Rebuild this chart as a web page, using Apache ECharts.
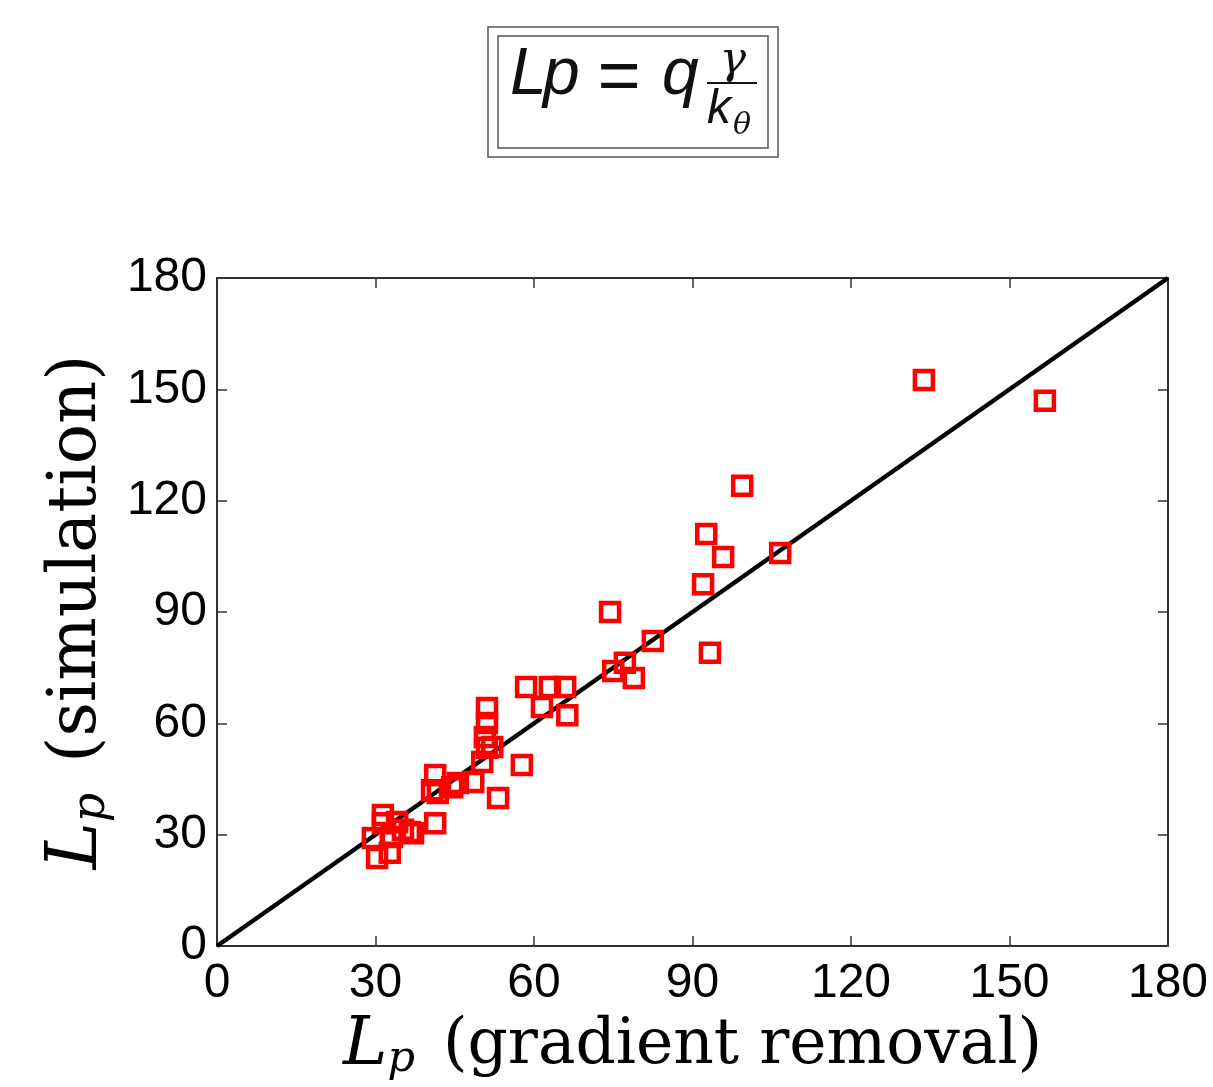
<!DOCTYPE html>
<html>
<head>
<meta charset="utf-8">
<script src="https://cdn.jsdelivr.net/npm/echarts@6/dist/echarts.min.js"></script>
<style>
  html, body { margin: 0; padding: 0; background: #fff; }
  #chart { width: 1213px; height: 1087px; }
</style>
</head>
<body>
<div id="chart"></div>
<script>
// L_p from gradient removal (x) vs L_p from simulation (y)
const gradX = [133.8, 156.7, 99.4, 92.6, 95.8, 106.6, 92.0, 74.4, 82.5, 93.3, 75.0, 77.2, 78.9,
  58.5, 63.0, 65.9, 61.5, 66.3, 51.1, 51.1, 50.7, 52.1, 51.1, 50.2, 57.7, 53.2, 41.3, 40.7,
  41.8, 44.5, 45.6, 48.5, 41.3, 31.4, 31.4, 34.1, 36.5, 37.1, 29.5, 30.3, 32.7, 33.1, 35.2];
const simY = [152.5, 146.9, 124.0, 111.0, 104.8, 105.9, 97.5, 90.0, 82.2, 79.0, 74.1, 76.3, 72.2,
  69.8, 69.8, 69.8, 64.4, 62.2, 64.1, 60.1, 56.3, 53.6, 53.4, 49.6, 48.8, 39.9, 46.1, 42.0,
  41.2, 42.8, 43.9, 44.2, 33.1, 35.3, 33.1, 33.4, 30.7, 30.4, 29.1, 23.7, 25.1, 29.4, 31.3];
const lineX = [0, 180];
const lineY = [0, 180];

const chart = echarts.init(document.getElementById('chart'));

const sans = 'Liberation Sans, Arial, sans-serif';
const serif = 'DejaVu Serif, Liberation Serif, serif';
const axisColor = '#333';

const tickLabel = { fontFamily: sans, fontSize: 48, color: '#000' };

function nameRich(size) {
  return {
    L: { fontFamily: serif, fontStyle: 'italic', fontSize: size + 4, color: '#000' },
    p: { fontFamily: serif, fontStyle: 'italic', fontSize: Math.round(size * 0.68), color: '#000',
      padding: [Math.round(size * 0.42), Math.round(size * 0.45), 0, 0] },
    t: { fontFamily: serif, fontSize: size, color: '#000' },
  };
}

function mainAxis(pos, name, gap, size) {
  return {
    type: 'value',
    position: pos,
    min: 0,
    max: 180,
    interval: 30,
    name: name,
    nameLocation: 'middle',
    nameGap: gap,
    nameTextStyle: { rich: nameRich(size) },
    axisLine: { show: true, onZero: false, lineStyle: { color: axisColor, width: 2 } },
    axisTick: { show: true, inside: true, length: 10, lineStyle: { color: axisColor, width: 1.5 } },
    axisLabel: Object.assign({ margin: pos === 'left' ? 10 : 14 }, tickLabel),
    splitLine: { show: false },
  };
}

function mirrorAxis(pos) {
  return {
    type: 'value',
    position: pos,
    min: 0,
    max: 180,
    interval: 30,
    axisLine: { show: true, onZero: false, lineStyle: { color: axisColor, width: 2 } },
    axisTick: { show: true, inside: true, length: 10, lineStyle: { color: axisColor, width: 1.5 } },
    axisLabel: { show: false },
    splitLine: { show: false },
  };
}

const points = gradX.map((x, i) => [x, simY[i]]);
const diag = lineX.map((x, i) => [x, lineY[i]]);

chart.setOption({
  animation: false,
  backgroundColor: '#fff',
  grid: { left: 217, right: 45, top: 278, bottom: 141, containLabel: false },
  xAxis: [mainAxis('bottom', '{L|L}{p|p}{t|(gradient removal)}', 58, 63), mirrorAxis('top')],
  yAxis: [
    Object.assign(mainAxis('left', '{L|L}{p|p}{t|(simulation)}', 102, 67), { nameRotate: 90 }),
    mirrorAxis('right'),
  ],
  series: [
    {
      type: 'line',
      data: diag,
      xAxisIndex: 0,
      yAxisIndex: 0,
      symbol: 'none',
      lineStyle: { color: '#000', width: 4.5 },
      z: 2,
    },
    {
      type: 'scatter',
      data: points,
      xAxisIndex: 0,
      yAxisIndex: 0,
      symbol: 'rect',
      symbolSize: 18,
      itemStyle: { color: 'rgba(255,255,255,0)', borderColor: '#ff0000', borderWidth: 4.5, opacity: 1 },
      z: 3,
    },
  ],
  graphic: [
    { type: 'rect', shape: { x: 488, y: 27, width: 290, height: 130 }, style: { fill: 'none', stroke: '#555', lineWidth: 1.5 } },
    { type: 'rect', shape: { x: 498, y: 36, width: 270, height: 112 }, style: { fill: 'none', stroke: '#555', lineWidth: 1.5 } },
    { type: 'text', x: 510, y: 76, style: { text: 'L', font: 'italic 66px ' + sans, fill: '#111', verticalAlign: 'middle' } },
    { type: 'text', x: 543, y: 76, style: { text: 'p', font: 'italic 66px ' + sans, fill: '#111', verticalAlign: 'middle' } },
    { type: 'text', x: 619, y: 80, style: { text: '=', font: '74px ' + sans, fill: '#111', align: 'center', verticalAlign: 'middle' } },
    { type: 'text', x: 662, y: 76, style: { text: 'q', font: 'italic 66px ' + sans, fill: '#111', verticalAlign: 'middle' } },
    { type: 'line', shape: { x1: 707, y1: 83, x2: 757, y2: 83 }, style: { stroke: '#111', lineWidth: 2 } },
    { type: 'text', x: 733, y: 62, style: { text: 'γ', font: 'italic 44px ' + serif, fill: '#111', align: 'center', verticalAlign: 'middle' } },
    { type: 'text', x: 707, y: 110, style: { text: 'k', font: 'italic 48px ' + sans, fill: '#111', verticalAlign: 'middle' } },
    { type: 'text', x: 733, y: 126, style: { text: 'θ', font: 'italic 30px ' + serif, fill: '#111', verticalAlign: 'middle' } },
  ],
});
</script>
</body>
</html>
